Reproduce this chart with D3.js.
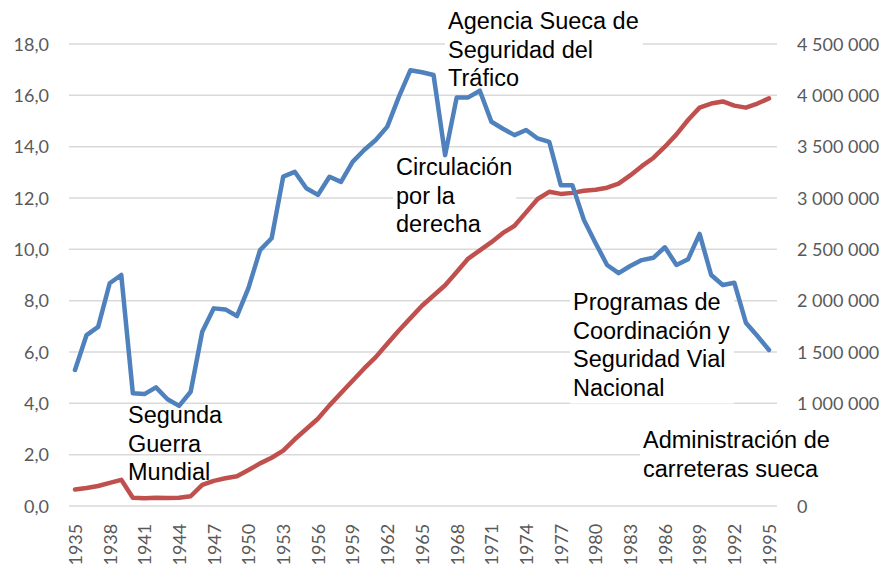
<!DOCTYPE html>
<html>
<head>
<meta charset="utf-8">
<script src="https://cdn.jsdelivr.net/npm/d3@7"></script>
<style>
  body { margin: 0; background: #fff; }
  .tick text { font-family: Lato, "Open Sans", sans-serif; fill: #595959; }
  .note { font-family: "Liberation Sans", Arial, sans-serif; font-size: 23.5px; fill: #000; }
</style>
</head>
<body>
<script>
// Data
var years = d3.range(1935, 1996);

// left axis series (blue)
var rate = [5.3, 6.66, 6.98, 8.68, 9.0, 4.39, 4.36, 4.62, 4.16, 3.9,
            4.45, 6.79, 7.7, 7.66, 7.4, 8.5, 9.97, 10.43, 12.83, 13.02,
            12.38, 12.12, 12.83, 12.63, 13.41, 13.87, 14.26, 14.78, 15.94, 16.98,
            16.9, 16.79, 13.67, 15.92, 15.92, 16.18, 14.97, 14.7, 14.45, 14.65,
            14.32, 14.19, 12.5, 12.5, 11.14, 10.25, 9.39, 9.07, 9.35, 9.58,
            9.67, 10.08, 9.39, 9.61, 10.6, 9.0, 8.61, 8.7, 7.14, 6.62,
            6.08];

// right axis series (red)
var vehicles = [160000, 175000, 195000, 225000, 255000, 80000, 75000, 80000, 78000, 80000,
                95000, 205000, 245000, 270000, 290000, 350000, 415000, 470000, 540000, 650000,
                750000, 850000, 980000, 1100000, 1220000, 1340000, 1450000, 1580000, 1710000, 1830000,
                1950000, 2050000, 2150000, 2280000, 2410000, 2490000, 2570000, 2660000, 2730000, 2860000,
                2990000, 3060000, 3040000, 3050000, 3070000, 3080000, 3100000, 3140000, 3220000, 3310000,
                3390000, 3500000, 3620000, 3760000, 3880000, 3920000, 3940000, 3900000, 3880000, 3920000,
                3970000];

var leftTicks = d3.range(0, 18.1, 2);
// 500 000 sits under the "Administración" text box in the original, so it is not shown
var rightTicks = [0, 1000000, 1500000, 2000000, 2500000, 3000000, 3500000, 4000000, 4500000];
var yearTicks = d3.range(1935, 1996, 3);

// text boxes laid over the chart (boxed = white fill hides grid under it)
var notes = [
  {lines: ["Agencia Sueca de", "Seguridad del", "Tráfico"], x: 448, y: 29, boxed: true},
  {lines: ["Circulación", "por la", "derecha"], x: 396, y: 175, boxed: true},
  {lines: ["Segunda", "Guerra", "Mundial"], x: 128, y: 423, boxed: false},
  {lines: ["Programas de", "Coordinación y", "Seguridad Vial", "Nacional"], x: 573, y: 310, boxed: true},
  {lines: ["Administración de", "carreteras sueca"], x: 643, y: 448, boxed: true, toEdge: true}
];

(function() {
var w = 883, h = 566;
var plotLeft = 69, plotRight = 777, plotTop = 44, plotBottom = 506;

var svg = d3.select("body").append("svg")
    .attr("width", w)
    .attr("height", h);

// scales
var xScale = d3.scalePoint()
    .domain(years)
    .range([75, 769]);

var yLeft = d3.scaleLinear()
    .domain([0, 18])
    .range([plotBottom, plotTop]);

var yRight = d3.scaleLinear()
    .domain([0, 4500000])
    .range([plotBottom, plotTop]);

// gridlines
svg.append("g")
    .selectAll("line")
    .data(leftTicks)
    .enter()
    .append("line")
    .attr("x1", plotLeft)
    .attr("x2", plotRight)
    .attr("y1", function(d) { return yLeft(d); })
    .attr("y2", function(d) { return yLeft(d); })
    .attr("stroke", "#d9d9d9")
    .attr("stroke-width", 1.5);

// axes
var fmtLeft = function(d) { return d.toFixed(1).replace(".", ","); };
var fmtRight = function(d) { return d === 0 ? "0" : d3.format(",")(d).replace(/,/g, " "); };

var axL = svg.append("g")
    .attr("transform", "translate(" + (plotLeft - 20) + ",0)")
    .call(d3.axisLeft(yLeft).tickValues(leftTicks).tickFormat(fmtLeft).tickSize(0).tickPadding(0));
axL.select(".domain").remove();
axL.selectAll("text").attr("font-size", 18).attr("dy", "0.35em");

var axR = svg.append("g")
    .attr("transform", "translate(" + (plotRight + 20) + ",0)")
    .call(d3.axisRight(yRight).tickValues(rightTicks).tickFormat(fmtRight).tickSize(0).tickPadding(0));
axR.select(".domain").remove();
axR.selectAll("text")
    .attr("font-size", 18)
    .attr("dy", "0.35em");

var axB = svg.append("g")
    .attr("transform", "translate(0," + (plotBottom + 16) + ")")
    .call(d3.axisBottom(xScale).tickValues(yearTicks).tickSize(0).tickPadding(0));
axB.select(".domain").remove();
axB.selectAll("text")
    .attr("font-size", 18)
    .attr("transform", "rotate(-90)")
    .attr("text-anchor", "end")
    .attr("x", 0)
    .attr("y", 0)
    .attr("dx", "-0.1em")
    .attr("dy", "0.35em");

// layers: white boxes, then data lines, then note text
var boxLayer = svg.append("g");
var lineLayer = svg.append("g");
var textLayer = svg.append("g");

// lines
var redLine = d3.line()
    .x(function(d, i) { return xScale(years[i]); })
    .y(function(d) { return yRight(d); });

var blueLine = d3.line()
    .x(function(d, i) { return xScale(years[i]); })
    .y(function(d) { return yLeft(d); });

lineLayer.append("path")
    .datum(vehicles)
    .attr("d", redLine)
    .attr("fill", "none")
    .attr("stroke", "#c0504d")
    .attr("stroke-width", 4.5)
    .attr("stroke-linejoin", "round")
    .attr("stroke-linecap", "round");

lineLayer.append("path")
    .datum(rate)
    .attr("d", blueLine)
    .attr("fill", "none")
    .attr("stroke", "#4f81bd")
    .attr("stroke-width", 4.5)
    .attr("stroke-linejoin", "round")
    .attr("stroke-linecap", "round");

// annotations
notes.forEach(function(n) {
    var t = textLayer.append("text")
        .attr("class", "note")
        .attr("x", n.x)
        .attr("y", n.y);
    n.lines.forEach(function(l, i) {
        t.append("tspan")
            .attr("x", n.x)
            .attr("dy", i === 0 ? 0 : 28.5)
            .text(l);
    });
    if (n.boxed) {
        var bb = t.node().getBBox();
        var x0 = bb.x - 3;
        var x1 = n.toEdge ? w : bb.x + bb.width + 4;
        boxLayer.append("rect")
            .attr("fill", "#fff")
            .attr("x", x0)
            .attr("y", n.y - 22)
            .attr("width", x1 - x0)
            .attr("height", (n.lines.length - 1) * 28.5 + 30);
    }
});
})();
</script>
</body>
</html>
